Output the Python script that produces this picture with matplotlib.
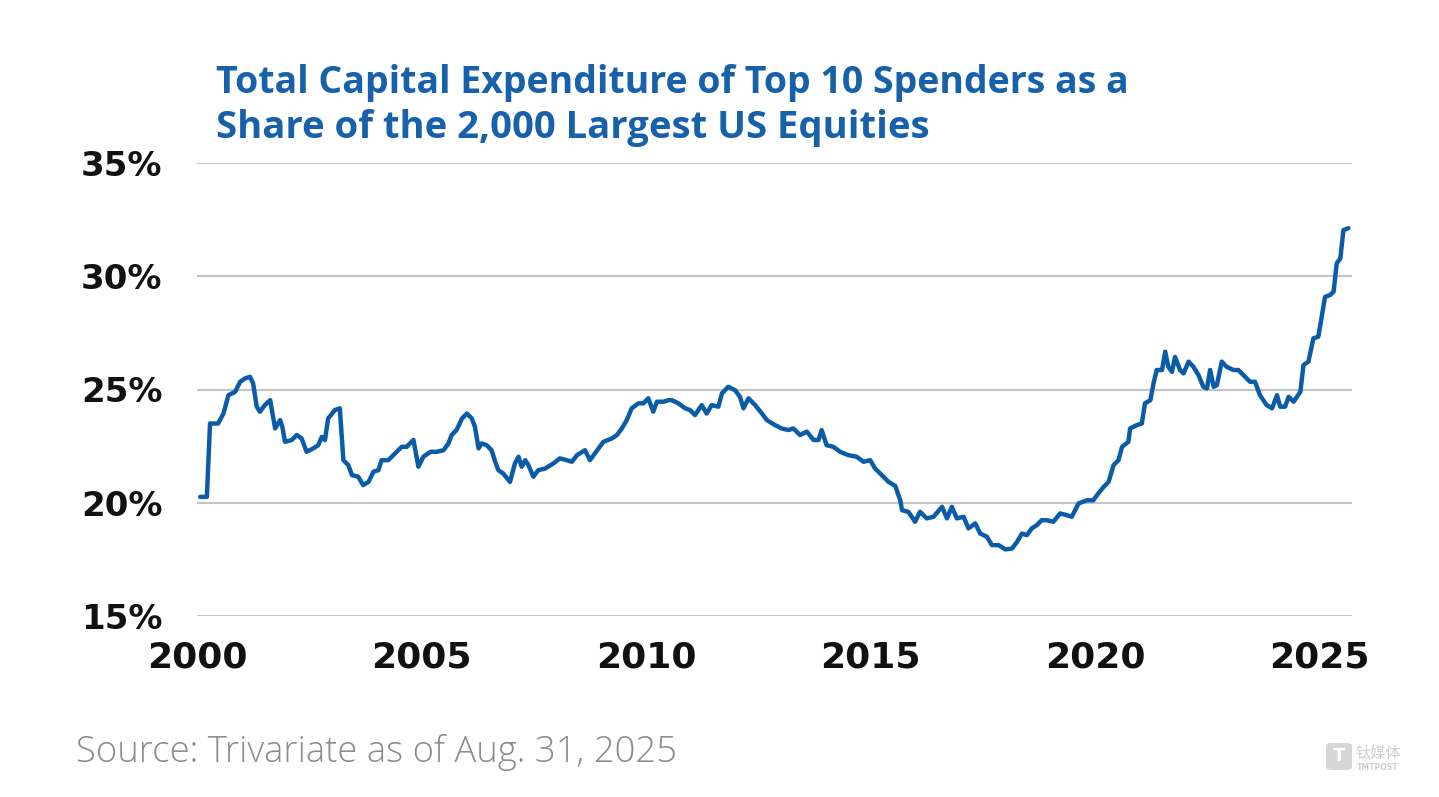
import matplotlib
matplotlib.use("Agg")
import matplotlib.pyplot as plt
from matplotlib.patches import FancyBboxPatch

# ---------------- data ----------------
years = [
    2000.07, 2000.22, 2000.29, 2000.47, 2000.59, 2000.70, 2000.85, 2000.96, 2001.07, 2001.18,
    2001.25, 2001.33, 2001.40, 2001.51, 2001.63, 2001.66, 2001.74, 2001.85, 2001.90, 2001.96,
    2002.11, 2002.22, 2002.33, 2002.44, 2002.59, 2002.70, 2002.78, 2002.85, 2002.92, 2003.07,
    2003.18, 2003.26, 2003.37, 2003.45, 2003.59, 2003.70, 2003.82, 2003.93, 2004.04, 2004.11,
    2004.26, 2004.41, 2004.56, 2004.67, 2004.74, 2004.82, 2004.93, 2005.04, 2005.20, 2005.34,
    2005.49, 2005.60, 2005.67, 2005.78, 2005.90, 2006.01, 2006.12, 2006.19, 2006.27, 2006.34,
    2006.45, 2006.56, 2006.64, 2006.71, 2006.82, 2006.97, 2007.08, 2007.16, 2007.23, 2007.31,
    2007.38, 2007.49, 2007.60, 2007.75, 2007.94, 2008.08, 2008.23, 2008.35, 2008.46, 2008.64,
    2008.75, 2008.86, 2009.05, 2009.24, 2009.35, 2009.46, 2009.57, 2009.68, 2009.83, 2009.94,
    2010.05, 2010.16, 2010.24, 2010.39, 2010.50, 2010.57, 2010.72, 2010.87, 2010.98, 2011.09,
    2011.24, 2011.35, 2011.46, 2011.61, 2011.69, 2011.83, 2011.98, 2012.09, 2012.17, 2012.28,
    2012.43, 2012.58, 2012.69, 2012.87, 2013.02, 2013.17, 2013.28, 2013.43, 2013.58, 2013.73,
    2013.84, 2013.91, 2014.02, 2014.17, 2014.32, 2014.51, 2014.69, 2014.84, 2014.99, 2015.10,
    2015.25, 2015.40, 2015.55, 2015.66, 2015.70, 2015.84, 2015.99, 2016.10, 2016.25, 2016.40,
    2016.59, 2016.70, 2016.81, 2016.92, 2017.07, 2017.18, 2017.33, 2017.44, 2017.59, 2017.70,
    2017.85, 2018.00, 2018.15, 2018.26, 2018.37, 2018.48, 2018.59, 2018.70, 2018.81, 2018.92,
    2019.07, 2019.22, 2019.37, 2019.48, 2019.63, 2019.82, 2019.96, 2020.07, 2020.19, 2020.30,
    2020.41, 2020.52, 2020.60, 2020.74, 2020.78, 2020.93, 2021.04, 2021.11, 2021.23, 2021.30,
    2021.37, 2021.49, 2021.56, 2021.63, 2021.71, 2021.78, 2021.89, 2021.97, 2022.08, 2022.19,
    2022.30, 2022.41, 2022.49, 2022.56, 2022.64, 2022.71, 2022.82, 2022.93, 2023.08, 2023.19,
    2023.30, 2023.45, 2023.56, 2023.67, 2023.82, 2023.94, 2024.05, 2024.12, 2024.23, 2024.31,
    2024.42, 2024.57, 2024.64, 2024.75, 2024.86, 2024.97, 2025.12, 2025.23, 2025.31, 2025.38,
    2025.46, 2025.53, 2025.64,
]
share_pct = [
    20.26, 20.26, 23.50, 23.50, 23.94, 24.75, 24.90, 25.34, 25.49, 25.56,
    25.27, 24.24, 24.02, 24.31, 24.53, 24.17, 23.28, 23.65, 23.35, 22.69,
    22.77, 22.99, 22.84, 22.25, 22.40, 22.54, 22.91, 22.77, 23.72, 24.09,
    24.17, 21.88, 21.66, 21.22, 21.15, 20.78, 20.92, 21.37, 21.44, 21.88,
    21.88, 22.18, 22.47, 22.47, 22.62, 22.77, 21.59, 22.03, 22.25, 22.25,
    22.32, 22.62, 22.99, 23.21, 23.72, 23.94, 23.72, 23.35, 22.40, 22.62,
    22.54, 22.32, 21.81, 21.44, 21.29, 20.92, 21.74, 22.03, 21.59, 21.88,
    21.66, 21.15, 21.44, 21.51, 21.74, 21.96, 21.88, 21.81, 22.10, 22.32,
    21.88, 22.18, 22.69, 22.84, 22.99, 23.28, 23.65, 24.17, 24.39, 24.39,
    24.61, 24.02, 24.46, 24.46, 24.53, 24.53, 24.39, 24.17, 24.09, 23.87,
    24.31, 23.94, 24.31, 24.24, 24.83, 25.12, 24.97, 24.68, 24.17, 24.61,
    24.31, 23.94, 23.65, 23.43, 23.28, 23.21, 23.28, 22.99, 23.14, 22.77,
    22.77, 23.21, 22.54, 22.47, 22.25, 22.10, 22.03, 21.81, 21.88, 21.51,
    21.22, 20.92, 20.74, 20.11, 19.67, 19.60, 19.16, 19.60, 19.31, 19.38,
    19.82, 19.31, 19.82, 19.31, 19.38, 18.87, 19.09, 18.64, 18.50, 18.13,
    18.13, 17.94, 17.98, 18.27, 18.64, 18.57, 18.87, 19.01, 19.23, 19.23,
    19.16, 19.53, 19.45, 19.38, 19.97, 20.11, 20.11, 20.41, 20.70, 20.92,
    21.66, 21.88, 22.47, 22.69, 23.28, 23.43, 23.50, 24.39, 24.53, 25.27,
    25.86, 25.86, 26.67, 26.00, 25.78, 26.44, 25.86, 25.71, 26.23, 26.00,
    25.64, 25.12, 25.05, 25.86, 25.12, 25.19, 26.23, 26.00, 25.86, 25.86,
    25.64, 25.34, 25.34, 24.75, 24.31, 24.17, 24.75, 24.24, 24.24, 24.68,
    24.46, 24.90, 26.08, 26.23, 27.26, 27.33, 29.09, 29.17, 29.32, 30.57,
    30.79, 32.04, 32.12,
]
y_ticks = [15, 20, 25, 30, 35]
y_tick_labels = ["15%", "20%", "25%", "30%", "35%"]
x_ticks = [2000, 2005, 2010, 2015, 2020, 2025]
x_tick_labels = ["2000", "2005", "2010", "2015", "2020", "2025"]
title_lines = ["Total Capital Expenditure of Top 10 Spenders as a",
               "Share of the 2,000 Largest US Equities"]
source_text = "Source: Trivariate as of Aug. 31, 2025"

# ---------------- styling ----------------
W, H = 1439, 797
LINE_COLOR = "#0b5ca8"
TITLE_COLOR = "#1761ab"
GRID_COLOR = "#c4c4c4"

fig = plt.figure(figsize=(W / 100, H / 100), dpi=100)
fig.patch.set_facecolor("white")

def px_x(x):
    return x / W

def px_y(y):
    return 1 - y / H

ax = fig.add_axes([px_x(197), px_y(616), (1352 - 197) / W, (616 - 163) / H])
ax.plot(years, share_pct, color=LINE_COLOR, lw=3.2, solid_joinstyle="round",
        solid_capstyle="round", zorder=3)
ax.set_xlim(2000, 2025.72)
ax.set_ylim(15, 35)
ax.set_yticks(y_ticks)
ax.set_yticklabels(y_tick_labels)
ax.set_xticks(x_ticks)
ax.set_xticklabels(x_tick_labels)
ax.grid(axis="y", color=GRID_COLOR, lw=1.5, zorder=0)
ax.grid(axis="x", visible=False)
for s in ax.spines.values():
    s.set_visible(False)
ax.tick_params(axis="both", length=0, colors="#111111")
ax.tick_params(axis="y", pad=25)
ax.tick_params(axis="x", pad=18)
for lab in ax.get_xticklabels():
    lab.set_fontfamily("DejaVu Sans")
    lab.set_fontweight("bold")
    lab.set_fontsize(26)
    lab.set_color("#111111")
for lab in ax.get_yticklabels():
    lab.set_fontfamily("DejaVu Sans")
    lab.set_fontweight("bold")
    lab.set_fontsize(24.5)
    lab.set_color("#111111")

renderer = fig.canvas.get_renderer()

def fit_text(x, y, s, target_w, size0, **kw):
    t = fig.text(x, y, s, fontsize=size0, **kw)
    bb = t.get_window_extent(renderer=renderer)
    t.set_fontsize(size0 * target_w / bb.width)
    return t

# title
fit_text(px_x(216), px_y(93), title_lines[0], 1130 - 216, 24,
         family="Open Sans", weight="bold", color=TITLE_COLOR,
         ha="left", va="baseline")
fit_text(px_x(216), px_y(138), title_lines[1], 930 - 216, 24,
         family="Open Sans", weight="bold", color=TITLE_COLOR,
         ha="left", va="baseline")

# source
fit_text(px_x(76), px_y(762), source_text, 678 - 76, 24,
         family="Open Sans", weight="light", color="#8c8c8c",
         ha="left", va="baseline")

# faint watermark
box = FancyBboxPatch((px_x(1326), px_y(770)), 26 / W, 27 / H,
                     boxstyle="round,pad=0,rounding_size=0.004",
                     transform=fig.transFigure, facecolor="#d6d6d6",
                     edgecolor="none")
fig.patches.append(box)
fig.text(px_x(1339), px_y(756), "T", fontsize=13, weight="bold", color="white",
         ha="center", va="center", family="DejaVu Sans")
fig.text(px_x(1356), px_y(753), "钛媒体", fontsize=11, color="#cfcfcf",
         ha="left", va="center", family=["Noto Sans CJK SC", "DejaVu Sans"])
fig.text(px_x(1357), px_y(767), "TMTPOST", fontsize=5.5, color="#cfcfcf",
         ha="left", va="center", family="DejaVu Sans", weight="bold")

fig.savefig("out.png", dpi=100, facecolor="white")
